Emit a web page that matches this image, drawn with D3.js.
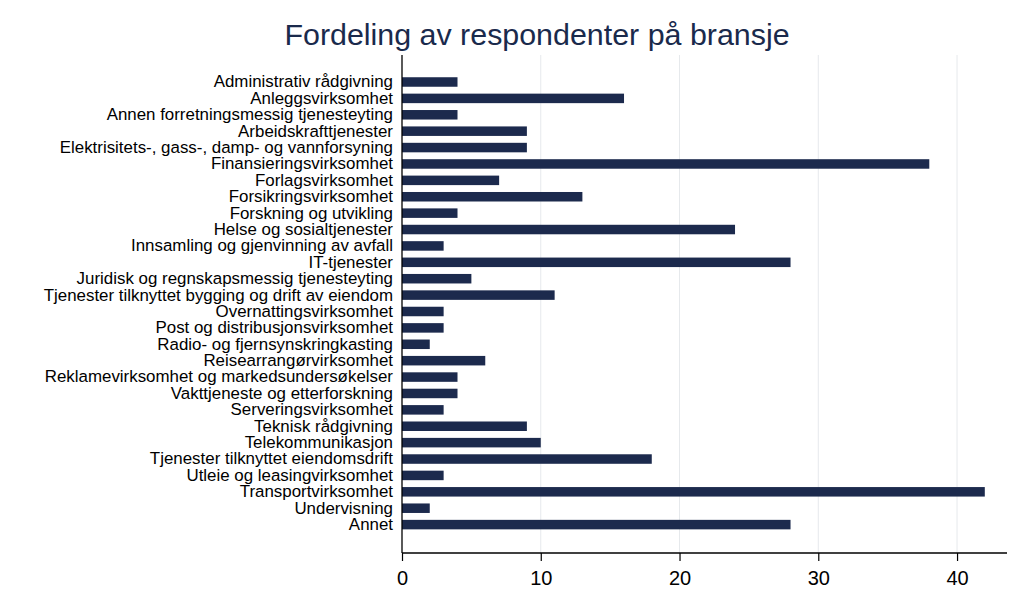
<!DOCTYPE html>
<html><head><meta charset="utf-8">
<script src="https://cdn.jsdelivr.net/npm/d3@7"></script>
<style>body{margin:0;background:#fff}svg{display:block}text{font-family:"Liberation Sans",Arial,sans-serif}</style>
</head><body>
<script>
const categories = ["Administrativ rådgivning","Anleggsvirksomhet","Annen forretningsmessig tjenesteyting","Arbeidskrafttjenester","Elektrisitets-, gass-, damp- og vannforsyning","Finansieringsvirksomhet","Forlagsvirksomhet","Forsikringsvirksomhet","Forskning og utvikling","Helse og sosialtjenester","Innsamling og gjenvinning av avfall","IT-tjenester","Juridisk og regnskapsmessig tjenesteyting","Tjenester tilknyttet bygging og drift av eiendom","Overnattingsvirksomhet","Post og distribusjonsvirksomhet","Radio- og fjernsynskringkasting","Reisearrangørvirksomhet","Reklamevirksomhet og markedsundersøkelser","Vakttjeneste og etterforskning","Serveringsvirksomhet","Teknisk rådgivning","Telekommunikasjon","Tjenester tilknyttet eiendomsdrift","Utleie og leasingvirksomhet","Transportvirksomhet","Undervisning","Annet"];
const values = [4,16,4,9,9,38,7,13,4,24,3,28,5,11,3,3,2,6,4,4,3,9,10,18,3,42,2,28];
const xTicks = [0,10,20,30,40];
const title = "Fordeling av respondenter på bransje";

const W=1024,H=608;
const svg=d3.select("body").append("svg").attr("width",W).attr("height",H);
const plotTop=55, plotBottom=553, x0=402, x1=1007;
const x=d3.scaleLinear().domain([0,43.6]).range([x0,x1]);
const y=d3.scaleBand().domain(categories).range([73.8,532.8]).paddingInner(0.42).paddingOuter(0.21);

// gridlines
svg.append("g").selectAll("line").data(xTicks.filter(d=>d>0)).join("line")
  .attr("x1",d=>x(d)).attr("x2",d=>x(d)).attr("y1",plotTop).attr("y2",plotBottom)
  .attr("stroke","#e6e9ec").attr("stroke-width",1);

// bars
svg.append("g").selectAll("rect").data(values).join("rect")
  .attr("x",x(0)).attr("y",(d,i)=>y(categories[i]))
  .attr("width",d=>x(d)-x(0)).attr("height",y.bandwidth())
  .attr("fill","#1c2a4d");

// y axis
const ya=svg.append("g").attr("transform",`translate(${x0},0)`).call(d3.axisLeft(y).tickSize(0).tickPadding(9));
ya.select(".domain").remove();
ya.selectAll("text").attr("font-size",16.9).attr("fill","#000").attr("font-family","Liberation Sans, Arial, sans-serif");
svg.append("line").attr("x1",x0).attr("x2",x0).attr("y1",plotTop).attr("y2",plotBottom).attr("stroke","#000").attr("stroke-width",1.3);

// x axis
const xa=svg.append("g").attr("transform",`translate(0,${plotBottom})`).call(d3.axisBottom(x).tickValues(xTicks).tickSize(8).tickPadding(10).tickFormat(d3.format("d")));
xa.select(".domain").attr("d",`M${x0},0H${x1}`).attr("stroke","#000").attr("stroke-width",1.3);
xa.selectAll(".tick line").attr("stroke","#000").attr("stroke-width",1.2);
xa.selectAll("text").attr("font-size",20).attr("fill","#000").attr("font-family","Liberation Sans, Arial, sans-serif");

svg.append("text").attr("x",537).attr("y",45).attr("text-anchor","middle")
  .attr("font-size",30.4).attr("fill","#1a2a4c").text(title);
</script>
</body></html>
